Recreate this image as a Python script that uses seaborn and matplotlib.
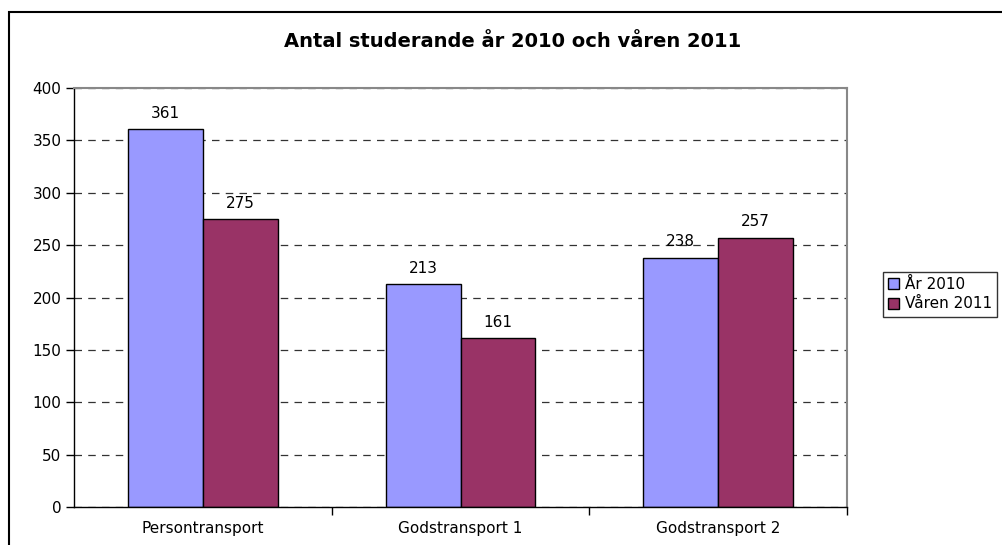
import matplotlib.pyplot as plt
import matplotlib.patches as mpatches
import pandas as pd
import seaborn as sns

categories = ["Persontransport", "Godstransport 1", "Godstransport 2"]
series_names = ["År 2010", "Våren 2011"]
values_2010 = [361, 213, 238]
values_2011 = [275, 161, 257]
colors = ["#9999FF", "#993366"]

df = pd.DataFrame(
    {
        "Kategori": categories * 2,
        "Serie": [series_names[0]] * 3 + [series_names[1]] * 3,
        "Antal": values_2010 + values_2011,
    }
)

sns.set_style("white")
# wide font: the reference text is horizontally stretched
plt.rcParams["font.family"] = ["DejaVu Sans"]
plt.rcParams["text.color"] = "black"

fig = plt.figure(figsize=(10.03, 5.45), dpi=100)
ax = fig.add_axes([0.0738, 0.0697, 0.7707, 0.7688])

sns.barplot(
    data=df,
    x="Kategori",
    y="Antal",
    hue="Serie",
    palette=colors,
    width=0.58,
    edgecolor="black",
    linewidth=1,
    saturation=1,
    ax=ax,
)

for cont in ax.containers:
    ax.bar_label(cont, padding=6, fontsize=11, color="black")

ax.set_ylim(0, 400)
ax.set_xlim(-0.5, 2.5)
ax.set_yticks(range(0, 401, 50))
ax.yaxis.grid(True, linestyle=(0, (6, 5)), color="#333333", linewidth=0.9)
ax.set_axisbelow(True)
ax.set_xlabel("")
ax.set_ylabel("")
ax.tick_params(axis="y", labelsize=11, length=6, width=1, direction="out",
               left=True, color="black", pad=3, labelcolor="black")
ax.tick_params(axis="x", which="major", labelsize=11, length=0, pad=10,
               labelcolor="black")
ax.set_xticks([0.5, 1.5, 2.5], minor=True)
ax.tick_params(axis="x", which="minor", length=6, width=1, direction="out",
               bottom=True, color="black")

for side in ["left", "bottom"]:
    ax.spines[side].set_color("black")
    ax.spines[side].set_linewidth(1)
for side in ["top", "right"]:
    ax.spines[side].set_color("#888888")
    ax.spines[side].set_linewidth(1.5)

ax.legend(
    loc="upper left",
    bbox_to_anchor=(1.046, 0.562),
    frameon=True,
    fancybox=False,
    edgecolor="black",
    fontsize=11,
    handlelength=0.75,
    handleheight=0.75,
    handletextpad=0.35,
    borderpad=0.35,
    labelspacing=0.3,
    borderaxespad=0,
)
leg = ax.get_legend()
leg.get_frame().set_linewidth(1)

fig.text(0.511, 0.924, "Antal studerande år 2010 och våren 2011",
         ha="center", va="center", fontsize=14, fontweight="bold")

border = mpatches.Rectangle((9 / 1003, -0.1), 1.2, 1.1 - 12 / 545,
                            transform=fig.transFigure, fill=False,
                            edgecolor="black", linewidth=1.5)
fig.patches.append(border)

fig.savefig("out.png", dpi=100)
